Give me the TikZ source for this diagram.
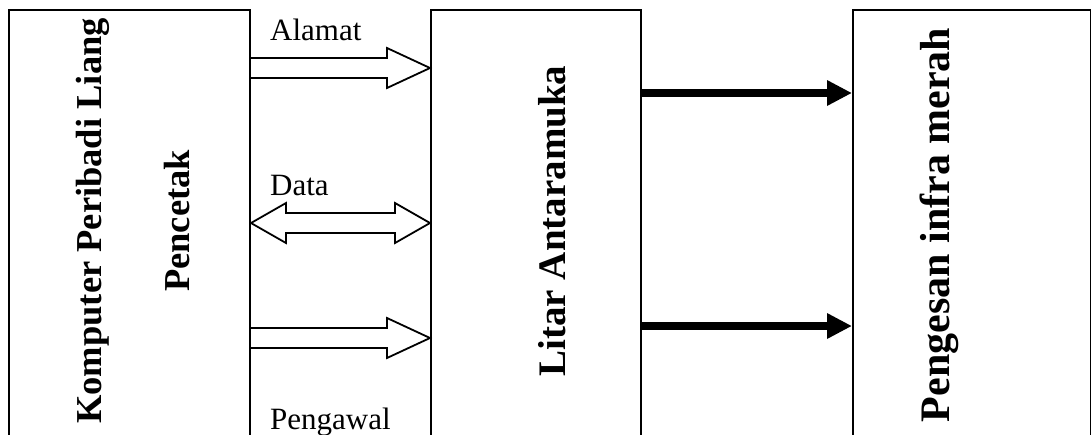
\documentclass[tikz,border=0pt]{standalone}
\usepackage{fontspec}
\setmainfont{Liberation Serif}
\usetikzlibrary{calc,arrows.meta}
\begin{document}
\begin{tikzpicture}[x=1pt,y=-1pt,
  blockbox/.style={draw, line width=2pt, rectangle, anchor=north west, inner sep=0pt, minimum height=460pt},
  boxtitle/.style={rotate=90, anchor=base, inner sep=0pt},
  hollowarrow/.style={draw, line width=1.8pt, fill=white, line join=miter},
  thickarrow/.style={line width=8pt, -{Triangle[length=25pt,width=24pt]}},
  buslabel/.style={anchor=base west, inner sep=0pt, font=\fontsize{31}{34}\selectfont}]
\clip (0,0) rectangle (1091,434);

% blocks
\node[blockbox, minimum width=241pt] (pc) at (8,9) {};
\node[blockbox, minimum width=210pt] (li) at (430,9) {};
\node[blockbox, minimum width=238pt] (pe) at (852,9) {};

% block titles
\node[boxtitle, font=\fontsize{36.5}{40}\bfseries\selectfont] (pcA) at (101,221) {Komputer Peribadi Liang};
\node[boxtitle, font=\fontsize{36.5}{40}\bfseries\selectfont] (pcB) at (189,221) {Pencetak};
\node[boxtitle, font=\fontsize{39}{42}\bfseries\selectfont] (liT) at (565,221) {Litar Antaramuka};
\node[boxtitle, font=\fontsize{42}{46}\bfseries\selectfont] (peT) at (949,225) {Pengesan infra merah};

% bus end points on the block edges
\coordinate (alS) at (pc.east |- 0,68);
\coordinate (alE) at (li.west |- 0,68);
\coordinate (daS) at (pc.east |- 0,223);
\coordinate (daE) at (li.west |- 0,223);
\coordinate (pwS) at (pc.east |- 0,338);
\coordinate (pwE) at (li.west |- 0,338);

% Alamat bus
\draw[hollowarrow] ($(alS)+(0,-10)$) -- ($(alE)+(-43,-10)$) -- ($(alE)+(-43,-20)$) -- (alE)
  -- ($(alE)+(-43,20)$) -- ($(alE)+(-43,10)$) -- ($(alS)+(0,10)$);
% Data bus (two-way)
\draw[hollowarrow] (daS) -- ($(daS)+(35,-20)$) -- ($(daS)+(35,-10)$) -- ($(daE)+(-35,-10)$)
  -- ($(daE)+(-35,-20)$) -- (daE) -- ($(daE)+(-35,20)$) -- ($(daE)+(-35,10)$)
  -- ($(daS)+(35,10)$) -- ($(daS)+(35,20)$) -- cycle;
% Pengawal bus
\draw[hollowarrow] ($(pwS)+(0,-10)$) -- ($(pwE)+(-43,-10)$) -- ($(pwE)+(-43,-20)$) -- (pwE)
  -- ($(pwE)+(-43,20)$) -- ($(pwE)+(-43,10)$) -- ($(pwS)+(0,10)$);

% bus labels
\node[buslabel] (alL) at (270,40) {Alamat};
\node[buslabel] (daL) at (270,195) {Data};
\node[buslabel] (pwL) at (270,429) {Pengawal};

% outputs to the infrared sender
\draw[thickarrow] (li.east |- 0,93) -- (pe.west |- 0,93);
\draw[thickarrow] (li.east |- 0,326) -- (pe.west |- 0,326);
\end{tikzpicture}
\end{document}
